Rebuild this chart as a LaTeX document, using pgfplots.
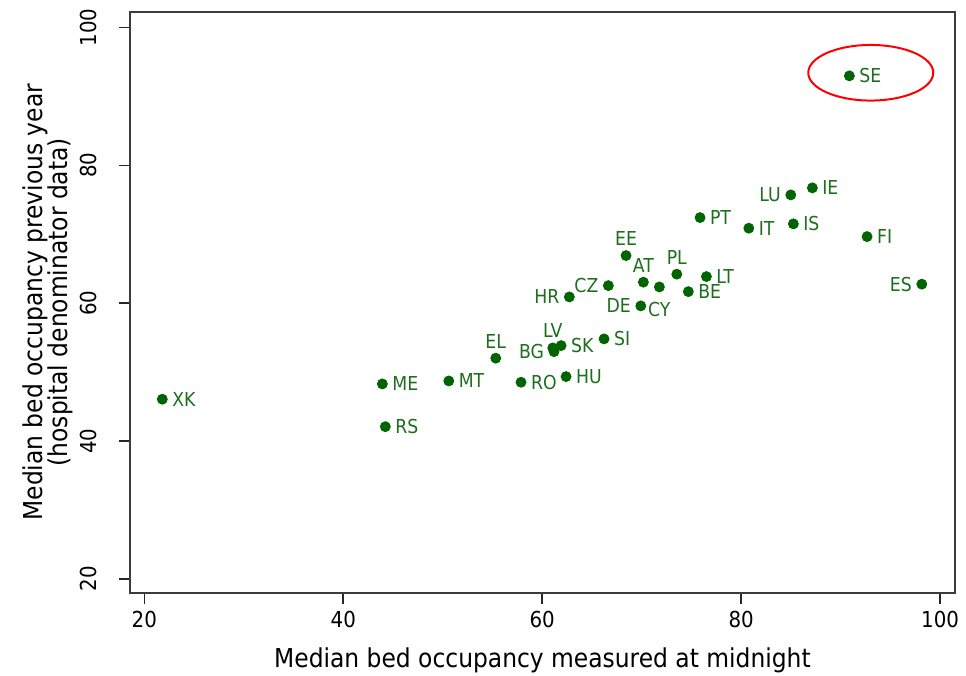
\documentclass[border=0pt]{standalone}
\usepackage{pgfplots}
\pgfplotsset{compat=1.18}
\usepackage{pgfplotstable}
\usepackage{fontspec}
\setmainfont{DejaVu Sans Condensed}
\definecolor{dotgreen}{RGB}{0,100,0}
\definecolor{labgreen}{RGB}{30,110,30}
\definecolor{framegray}{RGB}{60,60,60}

% labels to the right
\pgfplotstableread{
x y lab
21.81 46.08 XK
43.93 48.30 ME
44.23 42.10 RS
50.61 48.73 MT
57.87 48.54 RO
62.40 49.36 HU
61.90 53.86 SK
66.22 54.83 SI
74.69 61.69 BE
76.51 63.87 LT
75.87 72.43 PT
80.77 70.89 IT
85.25 71.52 IS
87.16 76.74 IE
92.66 69.67 FI
90.88 92.99 SE
}\rightdata
% labels to the left
\pgfplotstableread{
x y lab
61.19 52.98 BG
62.73 60.92 HR
66.65 62.56 CZ
69.91 59.62 DE
84.99 75.72 LU
98.16 62.77 ES
}\leftdata
% labels above
\pgfplotstableread{
x y lab
55.33 52.03 EL
61.06 53.52 LV
68.43 66.92 EE
70.17 63.06 AT
73.53 64.22 PL
}\abovedata
% labels below
\pgfplotstableread{
x y lab
71.78 62.37 CY
}\belowdata

\pgfplotsset{
  lblplot/.style={only marks, mark=*, mark size=2.5pt, color=dotgreen,
    point meta=explicit symbolic, nodes near coords,
    every node near coord/.append style={anchor=#1, font=\fontsize{9.6}{11}\selectfont,
      text=labgreen, inner sep=0.5pt, outer sep=4.5pt}}
}

\begin{document}
\begin{tikzpicture}
\begin{axis}[
  name=ax,
  scale only axis, width=412.5pt, height=290.5pt,
  xmin=18.56, xmax=101.5, ymin=18.01, ymax=102.3,
  xtick={20,40,60,80,100}, ytick={20,40,60,80,100},
  tick align=outside, tick pos=left, major tick length=5.5pt,
  axis line style={framegray, line width=1pt},
  tick style={black!85, line width=0.8pt},
  /pgf/number format/assume math mode=true,
  ticklabel style={font=\fontsize{11}{13}\selectfont, inner sep=0pt},
  xticklabel style={anchor=north},
  yticklabel style={rotate=90, anchor=base},
  xticklabel shift=3.5pt,
  yticklabel shift=11pt,
  xlabel={Median bed occupancy measured at midnight},
  ylabel={Median bed occupancy previous year\\(hospital denominator data)},
  xlabel style={at={(axis description cs:0.5,-0.1279)}, anchor=base, inner sep=0pt,
     font=\fontsize{13}{13}\selectfont},
  ylabel style={at={(axis description cs:-0.0685,0.5)}, anchor=south, inner sep=0pt,
     align=center, rotate=0, font=\fontsize{13}{12.6}\selectfont},
]
\addplot[lblplot=west] table[x=x, y=y, meta=lab] {\rightdata};
\addplot[lblplot=east] table[x=x, y=y, meta=lab] {\leftdata};
\addplot[lblplot=south] table[x=x, y=y, meta=lab] {\abovedata};
\addplot[lblplot=north, every node near coord/.append style={outer sep=7pt}] table[x=x, y=y, meta=lab] {\belowdata};
\draw[red, line width=1pt] (axis cs:93.03,93.44) ellipse [x radius=31.25pt, y radius=13.9pt];
\end{axis}
\pgfresetboundingbox
\path ([shift={(-65pt,-41.15pt)}]ax.south west) rectangle ([shift={(5.5pt,5.85pt)}]ax.north east);
\end{tikzpicture}
\end{document}
